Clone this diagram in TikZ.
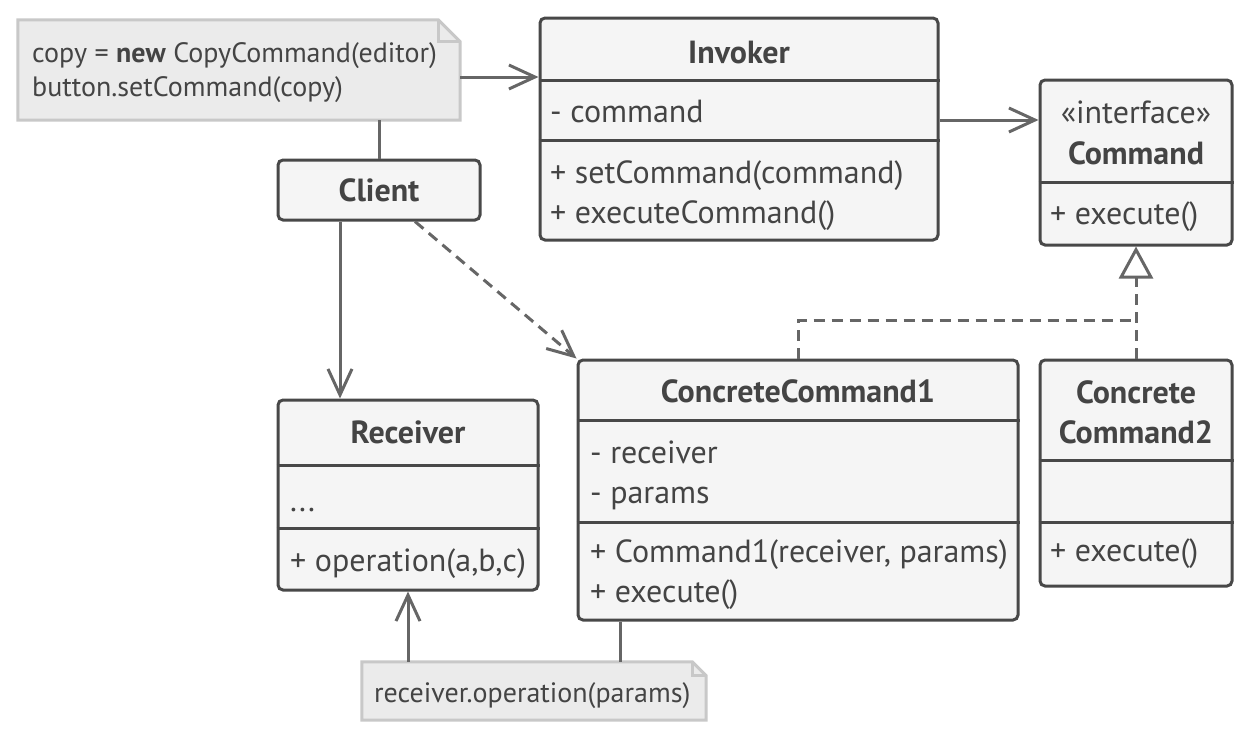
\documentclass[tikz,border=0pt]{standalone}
\usepackage{fontspec}
\setmainfont{PT Sans}
\usetikzlibrary{arrows.meta,calc}
\definecolor{txt}{RGB}{68,68,68}
\definecolor{boxln}{RGB}{72,72,72}
\definecolor{boxbg}{RGB}{245,245,245}
\definecolor{conln}{RGB}{102,102,102}
\definecolor{notebg}{RGB}{235,235,235}
\definecolor{noteln}{RGB}{200,200,200}
\tikzset{
  cls/.style={draw=boxln, fill=boxbg, line width=3pt, rounded corners=5pt, inner sep=0pt},
  divl/.style={draw=boxln, line width=3pt},
  notebox/.style={inner sep=0pt},
  noteshape/.style={draw=noteln, fill=notebg, line width=3pt, line join=miter},
  lbl/.style={text=txt, font=\fontsize{32}{38}\selectfont, inner sep=0pt, anchor=base west},
  ttl/.style={text=txt, font=\fontsize{32}{38}\selectfont\bfseries, inner sep=0pt, anchor=base},
  stereo/.style={text=txt, font=\fontsize{32}{38}\selectfont, inner sep=0pt, anchor=base},
  notetxt/.style={text=txt, font=\fontsize{28}{34}\selectfont, inner sep=0pt, anchor=base west},
  conn/.style={draw=conln, line width=3pt},
  assoc/.style={conn, -{Straight Barb[length=26pt, width=24pt, line width=3pt]}},
  dep/.style={assoc, dash pattern=on 11pt off 7pt},
  realize/.style={conn, dash pattern=on 11pt off 7pt},
}
\begin{document}
\begin{tikzpicture}[x=1pt,y=-1pt]
\useasboundingbox (0,0) rectangle (1260,740);

% ---------- note 1 ----------
\node[notebox, minimum width=442pt, minimum height=100pt] (note1) at (239,70) {};
\draw[noteshape] (note1.south west) -- (note1.north west) -- ($(note1.north east)+(-22,0)$) -- ($(note1.north east)+(0,22)$) -- (note1.south east) -- cycle;
\draw[draw=noteln, line width=3pt] ($(note1.north east)+(-22,0)$) -- ($(note1.north east)+(-22,22)$) -- ($(note1.north east)+(0,22)$);
\node[notetxt] (n1a) at (32,62) {copy = \textbf{new} CopyCommand(editor)};
\node[notetxt] (n1b) at (32,96) {button.setCommand(copy)};

% ---------- Invoker ----------
\node[cls, minimum width=398pt, minimum height=222pt] (inv) at (739,129) {};
\draw[divl] (inv.west |- 0,80) -- (inv.east |- 0,80);
\draw[divl] (inv.west |- 0,140) -- (inv.east |- 0,140);
\node[ttl] (invt) at (739,63) {Invoker};
\node[lbl] (inva) at (550,122) {- command};
\node[lbl] (invm1) at (550,183) {+ setCommand(command)};
\node[lbl] (invm2) at (550,223) {+ executeCommand()};

% ---------- Command ----------
\node[cls, minimum width=192pt, minimum height=165pt] (cmd) at (1136,162.5) {};
\draw[divl] (cmd.west |- 0,182) -- (cmd.east |- 0,182);
\node[stereo] (cmds) at (1136,123) {«interface»};
\node[ttl] (cmdt) at (1136,164) {Command};
\node[lbl] (cmdm) at (1050,224) {+ execute()};

% ---------- Client ----------
\node[cls, minimum width=202pt, minimum height=60pt] (client) at (379,190) {};
\node[ttl] (clientt) at (379,201) {Client};

% ---------- Receiver ----------
\node[cls, minimum width=260pt, minimum height=190pt] (recv) at (408,495) {};
\draw[divl] (recv.west |- 0,465) -- (recv.east |- 0,465);
\draw[divl] (recv.west |- 0,528) -- (recv.east |- 0,528);
\node[ttl] (recvt) at (408,443) {Receiver};
\node[lbl] (recva) at (290,511) {...};
\node[lbl] (recvm) at (290,571) {+ operation(a,b,c)};

% ---------- ConcreteCommand1 ----------
\node[cls, minimum width=440pt, minimum height=260pt] (cc1) at (798,490) {};
\draw[divl] (cc1.west |- 0,420) -- (cc1.east |- 0,420);
\draw[divl] (cc1.west |- 0,522) -- (cc1.east |- 0,522);
\node[ttl] (cc1t) at (798,402) {ConcreteCommand1};
\node[lbl] (cc1a1) at (590,463) {- receiver};
\node[lbl] (cc1a2) at (590,503) {- params};
\node[lbl] (cc1m1) at (590,562) {+ Command1(receiver, params)};
\node[lbl] (cc1m2) at (590,602) {+ execute()};

% ---------- ConcreteCommand2 ----------
\node[cls, minimum width=192pt, minimum height=226pt] (cc2) at (1136,473) {};
\draw[divl] (cc2.west |- 0,460) -- (cc2.east |- 0,460);
\draw[divl] (cc2.west |- 0,522) -- (cc2.east |- 0,522);
\node[ttl] (cc2t1) at (1136,403) {Concrete};
\node[ttl] (cc2t2) at (1136,443) {Command2};
\node[lbl] (cc2m) at (1050,561) {+ execute()};

% ---------- note 2 ----------
\node[notebox, minimum width=344pt, minimum height=58pt] (note2) at (534,691) {};
\draw[noteshape] (note2.south west) -- (note2.north west) -- ($(note2.north east)+(-14,0)$) -- ($(note2.north east)+(0,14)$) -- (note2.south east) -- cycle;
\draw[draw=noteln, line width=3pt] ($(note2.north east)+(-14,0)$) -- ($(note2.north east)+(-14,14)$) -- ($(note2.north east)+(0,14)$);
\node[notetxt] (n2a) at (374,702) {receiver.operation(params)};

% ---------- connectors ----------
\draw[assoc] ([yshift=-7pt]note1.east) -- ([yshift=-7pt]note1.east -| inv.west);
\draw[conn] (client.north |- note1.south) -- (client.north);
\draw[assoc] ([yshift=9pt]inv.east) -- ([yshift=9pt]inv.east -| cmd.west);
\draw[assoc] ([xshift=-39pt]client.south) -- ([xshift=-39pt]client.south |- recv.north);
\draw[dep] ([xshift=36pt]client.south) -- (cc1.north west);
\coordinate (jn) at (1136,320);
\draw[realize] (cc1.north) |- (jn);
\draw[realize, -{Triangle[open, fill=white, length=32pt, width=34pt, line width=3pt]}] (cc2.north) -- (cmd.south);
\draw[conn] ([xshift=-178pt]cc1.south) -- ([xshift=-178pt]cc1.south |- note2.north);
\draw[assoc] (recv.south |- note2.north) -- (recv.south);
\end{tikzpicture}
\end{document}
